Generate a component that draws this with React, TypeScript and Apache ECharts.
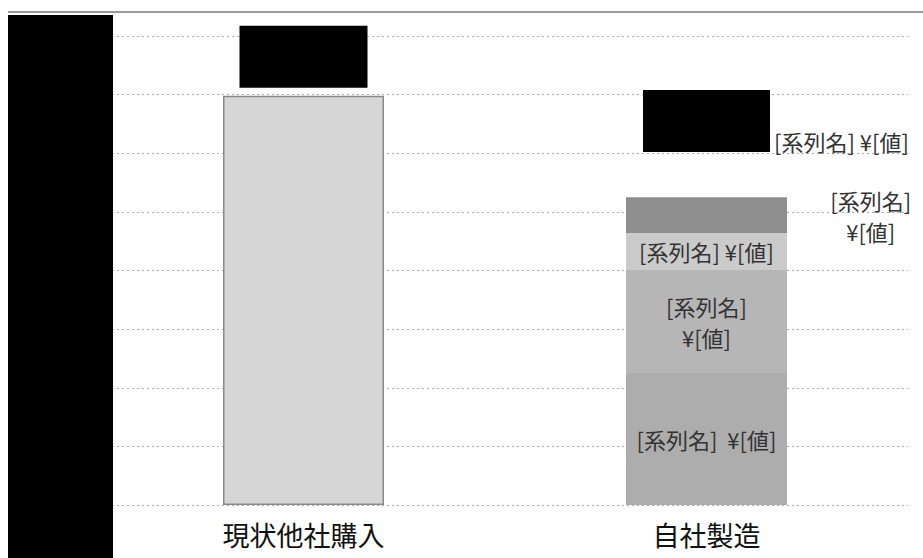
import React, { useEffect, useRef } from "react";
import * as echarts from "echarts";

const categories = ["現状他社購入", "自社製造"];
const purchaseValues: (number | string)[] = [698, "-"];
const segA: (number | string)[] = ["-", 225];
const segB: (number | string)[] = ["-", 176];
const segC: (number | string)[] = ["-", 63];
const segD: (number | string)[] = ["-", 61];
const segE: (number | string)[] = ["-", 77];
const yMax = 800;
const yInterval = 100;

const FONT = '"Noto Sans CJK JP", sans-serif';
const LBL = "#333";
const FS = 22;

export default function App() {
  const ref = useRef<HTMLDivElement>(null);
  useEffect(() => {
    if (!ref.current) return;
    const chart = echarts.init(ref.current, undefined, { renderer: "svg" });
    chart.setOption({
      animation: false,
      backgroundColor: "#fff",
      textStyle: { fontFamily: FONT },
      grid: { left: 102, right: 15, top: 36, bottom: 53 },
      xAxis: {
        type: "category",
        data: categories,
        axisLine: { show: false },
        axisTick: { show: false },
        axisLabel: { color: "#111", fontSize: 27, margin: 16, fontFamily: FONT },
      },
      yAxis: {
        type: "value",
        min: 0,
        max: yMax,
        interval: yInterval,
        axisLabel: { show: false },
        axisLine: { show: false },
        axisTick: { show: false },
        splitLine: { lineStyle: { color: "#aaa", type: [2, 3], width: 1 } },
      },
      series: [
        {
          name: "現状",
          type: "bar",
          stack: "t",
          barWidth: 161,
          data: purchaseValues,
          itemStyle: { color: "#d6d6d6", borderColor: "#8a8a8a", borderWidth: 1.5 },
          label: {
            show: true,
            position: "top",
            distance: 8,
            formatter: " ",
            width: 128,
            height: 62,
            backgroundColor: "#000",
          },
        },
        {
          name: "A",
          type: "bar",
          stack: "t",
          barWidth: 161,
          data: segA,
          itemStyle: { color: "#adadad" },
          label: { show: true, position: "inside", formatter: "[系列名]  ¥[値]", color: LBL, fontSize: FS, fontFamily: FONT },
        },
        {
          name: "B",
          type: "bar",
          stack: "t",
          barWidth: 161,
          data: segB,
          itemStyle: { color: "#b6b6b6" },
          label: { show: true, position: "inside", formatter: "[系列名]\n¥[値]", lineHeight: 31, color: LBL, fontSize: FS, fontFamily: FONT },
        },
        {
          name: "C",
          type: "bar",
          stack: "t",
          barWidth: 161,
          data: segC,
          itemStyle: { color: "#cbcbcb" },
          label: { show: true, position: "inside", formatter: "[系列名] ¥[値]", color: LBL, fontSize: FS, fontFamily: FONT },
        },
        {
          name: "D",
          type: "bar",
          stack: "t",
          barWidth: 161,
          data: segD,
          itemStyle: { color: "#8e8e8e" },
          label: {
            show: true,
            position: ["152%", "50%"],
            align: "center",
            verticalAlign: "middle",
            formatter: "[系列名]\n¥[値]",
            lineHeight: 31,
            color: LBL,
            fontSize: FS,
            fontFamily: FONT,
          },
        },
        {
          name: "E",
          type: "bar",
          stack: "t",
          barWidth: 161,
          data: segE,
          itemStyle: { color: "rgba(0,0,0,0)" },
          label: {
            show: true,
            position: [17, 0],
            align: "left",
            verticalAlign: "bottom",
            formatter: "{box| }{t|[系列名] ¥[値]}",
            rich: {
              box: { width: 127, height: 62, backgroundColor: "#000" },
              t: { fontSize: FS, color: LBL, fontFamily: FONT, verticalAlign: "bottom", padding: [0, 0, 0, 4] },
            },
          },
        },
      ],
      graphic: [
        {
          type: "line",
          shape: { x1: 8, y1: 12, x2: 923, y2: 12 },
          style: { stroke: "#999", lineWidth: 2 },
          silent: true,
        },
        {
          type: "rect",
          shape: { x: 8, y: 15, width: 105, height: 543 },
          style: { fill: "#000" },
          silent: true,
          z: 100,
        },
      ],
    });
    return () => chart.dispose();
  }, []);
  return (
    <div
      ref={ref}
      style={{ position: "fixed", left: 0, top: 0, width: 923, height: 558, background: "#fff" }}
    />
  );
}
